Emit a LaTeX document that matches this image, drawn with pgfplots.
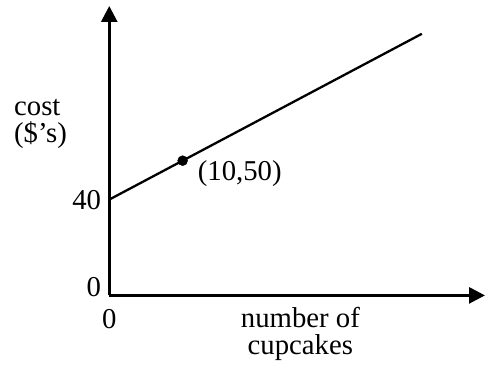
\documentclass[border=0pt]{standalone}
\usepackage{fontspec}
\setmainfont{Liberation Serif}
\usepackage{pgfplots}
\pgfplotsset{compat=1.18}
\usetikzlibrary{arrows.meta}

\begin{document}
\begin{tikzpicture}
\begin{axis}[
  scale only axis,
  width=376.5pt, height=290pt,
  xmin=0, xmax=51.2,
  ymin=15.385, ymax=89.74,
  axis lines=left,
  axis line style={line width=2.8pt, -{Triangle[width=16pt,length=16pt]}},
  major tick length=0pt,
  clip=false,
  font=\fontsize{28.8}{27}\selectfont,
  xtick={0}, xticklabels={0},
  xticklabel style={anchor=base, yshift=-33pt, inner sep=0pt},
  ytick={40}, yticklabels={40},
  yticklabel style={anchor=east, xshift=-8pt, inner sep=0pt},
  extra y ticks={15.385}, extra y tick labels={0},
  extra y tick style={yticklabel style={anchor=base east, yshift=-1pt}},
  /pgf/number format/assume math mode=true,
]
% cost line: 40 dollars fixed plus 1 dollar per cupcake
\addplot[black, line width=2.3pt] coordinates {(0,40) (42.6,82.6)};
\addplot[only marks, mark=*, mark size=5pt, black] coordinates {(10,50)};
\node[anchor=base west, inner sep=0pt] at (axis cs:10,50) [xshift=15pt, yshift=-20pt] {(10,50)};

% axis labels (base anchor sits on the last line)
\node[anchor=base west, align=left, inner sep=0pt]
  at (axis description cs:-0.2537,0.5276) {cost\\(\$’s)};
\node[anchor=base, align=center, inner sep=0pt]
  at (axis description cs:0.5086,-0.2034) {number of\\cupcakes};

% corners of the page
\coordinate (pagesw) at (axis description cs:-0.2908,-0.2448);
\coordinate (pagene) at (axis description cs:1.0027,1.0207);
\end{axis}
\pgfresetboundingbox
\useasboundingbox (pagesw) rectangle (pagene);
\end{tikzpicture}
\end{document}
